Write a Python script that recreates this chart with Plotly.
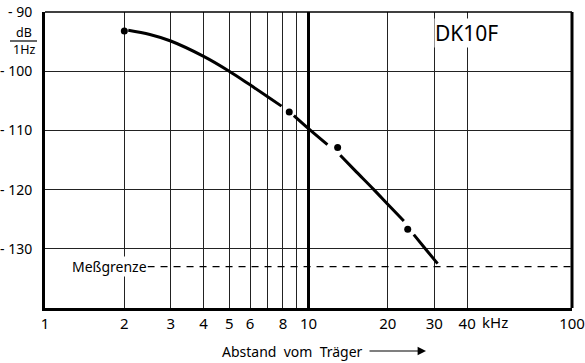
import plotly.graph_objects as go

# ---- data ----
curve_x = [2.07, 2.5, 3, 4, 5, 6, 7, 7.9, None, 8.8, 10, 11.8, None, 13.2, 15, 17.7, 20.2, 23.0, None, 25.1, 28, 30.9]
curve_y = [-93.1, -93.8, -94.9, -97.5, -100, -102.3, -104.3, -105.9, None, -107.5, -109.7, -112.4, None, -114.2, -116.75, -120.0, -122.7, -125.3, None, -127.6, -130.2, -132.5]
dot_x = [2, 8.45, 12.9, 23.8]
dot_y = [-93.2, -106.9, -112.9, -126.7]
limit_level = -133
limit_start = 2.45
x_tickvals = [1, 2, 3, 4, 5, 6, 7, 8, 9, 10, 20, 30, 40, 100]
x_ticktext = ["1", "2", "3", "4", "5", "6", "", "8", "", "10", "20", "30", "40", "100"]
y_tickvals = [-90, -100, -110, -120, -130]
y_ticktext = ["- 90", "- 100", "- 110", "- 120", "- 130"]

W, H = 585, 363
PL, PR, PT, PB = 45, 572, 12, 308          # plot box in page pixels
L, T = PL, PT
R, B = W - PR, H - PB
pw, ph = PR - PL, PB - PT


def px(xp):
    return (xp - PL) / pw


def py(yp):
    return (PB - yp) / ph


FONT = "Noto Sans"
fig = go.Figure()

# measurement limit dashed line
fig.add_trace(go.Scatter(x=[limit_start, 100], y=[limit_level, limit_level], mode="lines",
                         line=dict(color="black", width=1.2, dash="7px,6px"),
                         hoverinfo="skip", showlegend=False))
# thick 10 kHz line
fig.add_trace(go.Scatter(x=[10, 10], y=[-140, -90], mode="lines",
                         line=dict(color="black", width=3), hoverinfo="skip", showlegend=False))
# curve
fig.add_trace(go.Scatter(x=curve_x, y=curve_y, mode="lines", connectgaps=False,
                         line=dict(color="black", width=3, shape="spline", smoothing=1.0),
                         showlegend=False))
fig.add_trace(go.Scatter(x=dot_x, y=dot_y, mode="markers",
                         marker=dict(color="black", size=7), showlegend=False))

fig.update_xaxes(type="log", range=[0, 2], tickvals=x_tickvals, ticktext=x_ticktext,
                 showgrid=True, gridcolor="#222", gridwidth=1, zeroline=False,
                 showline=True, linecolor="black", linewidth=3, ticks="", automargin=False,
                 ticklabelstandoff=0, tickfont=dict(family=FONT, size=15, color="black"))
fig.update_yaxes(range=[-140, -90], tickvals=y_tickvals, ticktext=y_ticktext,
                 showgrid=True, gridcolor="#222", gridwidth=1, zeroline=False,
                 showline=True, linecolor="black", linewidth=3, ticks="", automargin=False,
                 ticklabelstandoff=7, tickfont=dict(family=FONT, size=14, color="black"))

shapes = [
    dict(type="line", xref="paper", yref="paper", x0=1, x1=1, y0=0, y1=1,
         line=dict(color="black", width=3)),
    dict(type="line", xref="paper", yref="paper", x0=0, x1=1, y0=1, y1=1,
         line=dict(color="black", width=1.5)),
    dict(type="line", xref="paper", yref="paper", x0=px(10), x1=px(37), y0=py(41), y1=py(41),
         line=dict(color="black", width=1.2)),
]

ann = []


def text(t, xp, yp, size=13, bg=None):
    d = dict(text=t, xref="paper", yref="paper", x=px(xp), y=py(yp), showarrow=False,
             xanchor="center", yanchor="middle", font=dict(family=FONT, size=size, color="black"))
    if bg:
        d["bgcolor"] = bg
        d["borderpad"] = 0
    ann.append(d)


text("dB", 24, 32.5, 12.5)
text("1Hz", 24, 49.5, 12.5)
text("DK10F", 466, 33, 21, bg="white")
text("Meßgrenze", 109, 266.5, 14, bg="white")
text("kHz", 495, 322, 15)
text("Abstand  vom  Träger", 292, 351, 14)
ann.append(dict(text="", xref="paper", yref="paper", x=px(426), y=py(351), showarrow=True,
                axref="pixel", ayref="pixel", ax=-58, ay=0, arrowhead=2, arrowsize=1.4,
                arrowwidth=1.2, arrowcolor="black"))

fig.update_layout(width=W, height=H, margin=dict(l=L, r=R, t=T, b=B, autoexpand=False),
                  paper_bgcolor="white", plot_bgcolor="white",
                  shapes=shapes, annotations=ann, showlegend=False)

# remove the browser's default 8px body margin so the figure sits at the page origin
fig.write_html("out.html", config={"displayModeBar": False},
               post_script="document.body.style.margin='0';")
